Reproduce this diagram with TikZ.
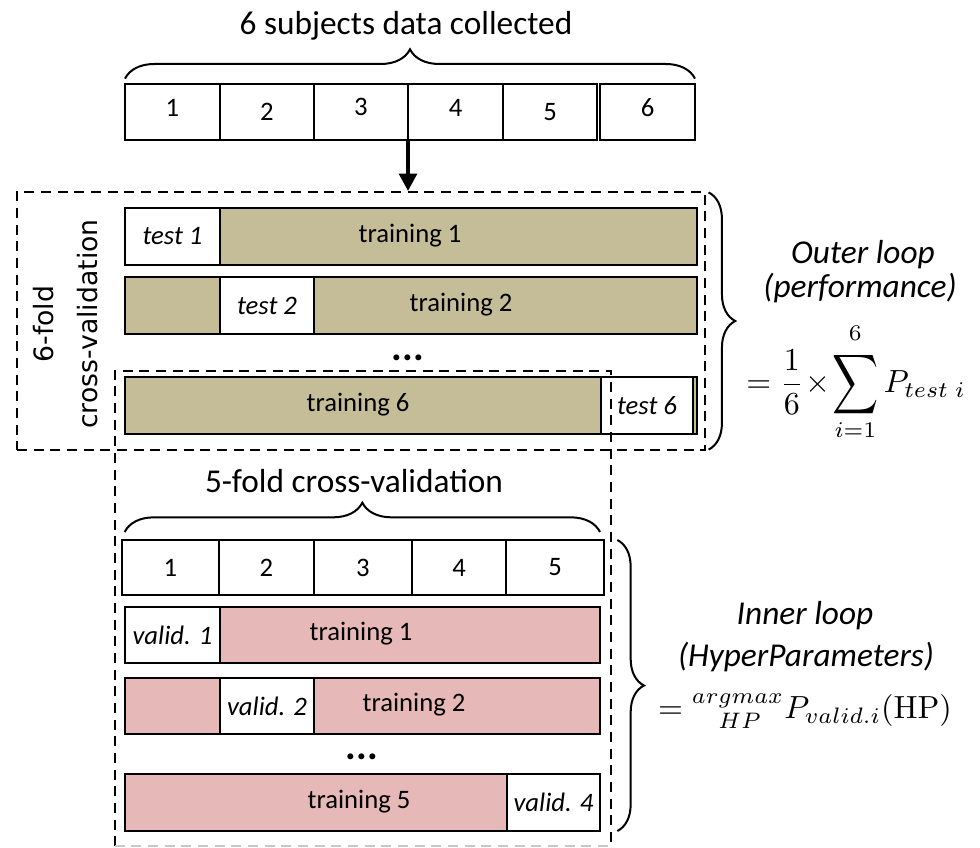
\documentclass[tikz,border=0pt]{standalone}
\usepackage[no-math]{fontspec}
\setmainfont{Carlito}
\newfontfamily\sidefont{DejaVu Sans}
\usepackage{graphicx}
\usetikzlibrary{arrows.meta,decorations.pathreplacing,fit,calc}

\definecolor{trainouter}{HTML}{C4BD97}
\definecolor{traininner}{HTML}{E6B8B7}
\definecolor{fadegray}{HTML}{C8C8C8}

\tikzset{
  box/.style={draw=black, line width=1.5pt, inner sep=0pt, outer sep=0pt},
  whitebox/.style={box, fill=white},
  tanbox/.style={box, fill=trainouter},
  pinkbox/.style={box, fill=traininner},
  num/.style={font=\fontsize{20}{24}\selectfont, inner sep=0pt},
  foldtag/.style={font=\fontsize{20}{24}\selectfont\itshape, inner sep=0pt},
  heading/.style={font=\fontsize{25}{30}\selectfont, inner sep=0pt},
  loopnote/.style={font=\fontsize{25}{30}\selectfont\itshape, inner sep=0pt},
  formula/.style={font=\fontsize{10}{12}\selectfont, inner sep=0pt},
  ellip/.style={font=\fontsize{30}{30}\selectfont\bfseries, inner sep=0pt},
  frame/.style={draw=black, line width=1.4pt, dash pattern=on 7.5pt off 5pt},
  bracket/.style={draw=black, line width=1.5pt, decorate, decoration={brace, amplitude=#1}},
  bracket/.default=21pt,
}

\begin{document}
\begin{tikzpicture}[x=0.75pt, y=-0.75pt]
\useasboundingbox (0,0) rectangle (980,848);

% ---------- all six subjects ----------
\node[heading] (title) at (406,26) {6 subjects data collected};
\node[whitebox, fit={(125,84) (220,140)}] (d1) {};
\node[whitebox, fit={(220,84) (314,140)}] (d2) {};
\node[whitebox, fit={(314,84) (408,140)}] (d3) {};
\node[whitebox, fit={(408,84) (503,140)}] (d4) {};
\node[whitebox, fit={(503,84) (597,140)}] (d5) {};
\node[whitebox, fit={(600,84) (695,140)}] (d6) {};
\node[num] (d1t) at ([yshift=3pt]d1.center) {1};
\node[num] (d2t) at ([yshift=0pt]d2.center) {2};
\node[num] (d3t) at ([yshift=4pt]d3.center) {3};
\node[num] (d4t) at ([yshift=3pt]d4.center) {4};
\node[num] (d5t) at ([yshift=0pt]d5.center) {5};
\node[num] (d6t) at ([yshift=3pt]d6.center) {6};

% ---------- outer loop folds ----------
\node[tanbox, fit={(125,208) (697,265)}] (orow1) {};
\node[whitebox, fit={(125,208) (220,265)}] (otest1) {};
\node[foldtag] (otest1t) at (otest1) {test 1};
\node[num] (otrain1) at (410,236) {training 1};

\node[tanbox, fit={(125,277) (697,334)}] (orow2) {};
\node[whitebox, fit={(220,277) (314,334)}] (otest2) {};
\node[foldtag] (otest2t) at (otest2) {test 2};
\node[num] (otrain2) at (461,305) {training 2};

\node[ellip] (odots) at (408,358) {...};

\node[tanbox, fit={(125,377) (697,434)}] (orow6) {};
\node[whitebox, fit={(601,377) (693,434)}] (otest6) {};
\node[foldtag] (otest6t) at (otest6) {test 6};
\node[num] (otrain6) at (358,405) {training 6};

\node[rotate=90, align=center, inner sep=0pt,
      font=\sidefont\fontsize{20}{33}\selectfont] (cvlabel) at (66,324)
      {6-fold\\cross-validation};

% ---------- inner loop folds ----------
\node[heading] (innertitle) at (354,481) {5-fold cross-validation};
\node[whitebox, fit={(122,540) (219,595)}] (n1) {};
\node[whitebox, fit={(219,540) (314,595)}] (n2) {};
\node[whitebox, fit={(314,540) (412,595)}] (n3) {};
\node[whitebox, fit={(412,540) (506,595)}] (n4) {};
\node[whitebox, fit={(506,540) (604,595)}] (n5) {};
\node[num] (n1t) at (n1) {1};
\node[num] (n2t) at (n2) {2};
\node[num] (n3t) at (n3) {3};
\node[num] (n4t) at (n4) {4};
\node[num] (n5t) at (n5) {5};

\node[pinkbox, fit={(125,607) (600,663)}] (irow1) {};
\node[whitebox, fit={(125,607) (220,663)}] (ivalid1) {};
\node[foldtag] (ivalid1t) at (ivalid1) {valid. 1};
\node[num] (itrain1) at (361,634) {training 1};

\node[pinkbox, fit={(125,678) (600,734)}] (irow2) {};
\node[whitebox, fit={(220,678) (314,734)}] (ivalid2) {};
\node[foldtag] (ivalid2t) at (ivalid2) {valid. 2};
\node[num] (itrain2) at (414,705) {training 2};

\node[ellip] (idots) at (362,757) {...};

\node[pinkbox, fit={(125,774) (600,831)}] (irow5) {};
\node[whitebox, fit={(507,774) (600,831)}] (ivalid4) {};
\node[foldtag] (ivalid4t) at (ivalid4) {valid. 4};
\node[num] (itrain5) at (359,802) {training 5};

% ---------- dashed groupings ----------
\node[frame, inner sep=0pt, fit={(17,192) (705,450)}] (outer) {};
\node[inner sep=0pt, fit={(115,371) (611,846)}] (inner) {};
\draw[frame] (inner.south west) -- (inner.north west) -- (inner.north east) -- (inner.south east);
\draw[frame, draw=fadegray] (inner.south west) -- (inner.south east);

% ---------- arrow into the outer loop ----------
\draw[line width=3.2pt, -{Triangle[length=13pt, width=13pt]}]
  (d4.south west) -- (d4.south west |- outer.north);

% ---------- braces ----------
\draw[bracket=22pt] ([yshift=4pt]d1.north west) -- ([yshift=4pt]d6.north east);
\draw[bracket=22pt] ([xshift=2pt, yshift=6pt]n1.north west) -- ([xshift=-3pt, yshift=6pt]n5.north east);
\draw[bracket=20pt] ([xshift=2pt, yshift=-1pt]outer.north east) -- ([xshift=2pt, yshift=1pt]outer.south east);
\draw[bracket=20pt] ([xshift=10pt]n5.north east) -- ([xshift=10pt]n5.north east |- irow5.south east);

% ---------- loop summaries (math set at 10pt, enlarged as a whole) ----------
\node[loopnote] (outernote1) at (863,255) {Outer loop};
\node[loopnote] (outernote2) at (860,288) {(performance)};
\node[formula] (outerformula) at (856,382)
  {\scalebox{2.4}{$\displaystyle =\frac{1}{6}\!\times\!\mathop{\vcenter{\hbox{\scalebox{1}[1.3]{$\displaystyle\sum$}}}}\limits_{i=1}^{\raisebox{1.2pt}{$\scriptstyle 6$}}P_{test\ i}$}};

\node[loopnote] (innernote1) at (805,616) {Inner loop};
\node[loopnote] (innernote2) at (806,657) {(HyperParameters)};
\node[formula] (innerformula) at (805,711)
  {\scalebox{2.4}{$= {}^{argmax}_{\hphantom{ar}HP}P_{valid.i}(\mathrm{HP})$}};
\end{tikzpicture}
\end{document}
